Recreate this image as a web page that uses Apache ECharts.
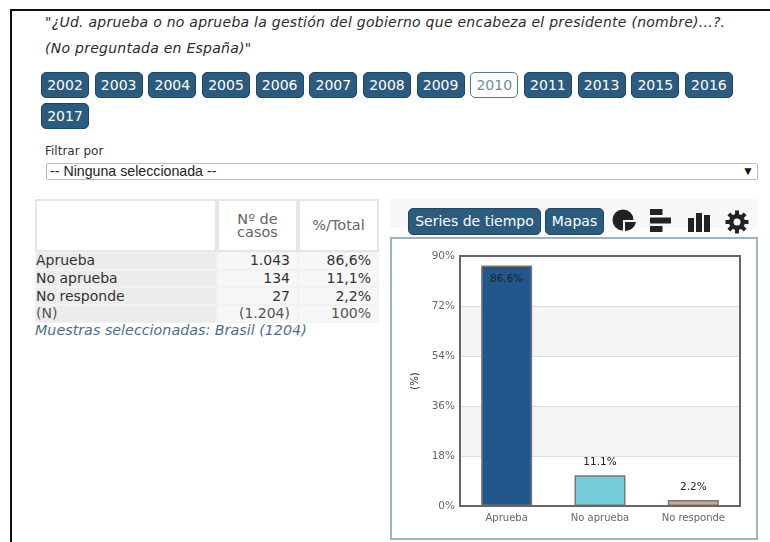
<!DOCTYPE html>
<html>
<head>
<meta charset="utf-8">
<script src="https://cdn.jsdelivr.net/npm/echarts@6/dist/echarts.min.js"></script>
<style>
  html, body { margin: 0; padding: 0; background: #fff; }
  body { width: 770px; height: 542px; position: relative; overflow: hidden; font-family: "DejaVu Sans", sans-serif; color: #333; }
  .abs { position: absolute; }
  /* black frame of the screenshot */
  #frame { left: 10px; top: 9px; width: 770px; height: 560px; border: 2px solid #111; }
  .question { left: 45px; font-size: 14px; letter-spacing: .26px; font-style: italic; color: #2b2b2b; white-space: nowrap; }
  #years { left: 41px; top: 72px; width: 700px; display: flex; flex-wrap: wrap; gap: 5px 5.650px; }
  .btn { box-sizing: border-box; height: 26px; line-height: 24px; padding: 0 5.200px; font-size: 14px; color: #fff; background: #2c5b80; border: 1px solid #1f4665; border-radius: 5px; white-space: nowrap; }
  .btn.on { background: #fff; color: #6f8ba1; border-color: #55778f; }
  #filterLabel { left: 45px; top: 144px; font-size: 12px; color: #333; }
  #filter { box-sizing: border-box; left: 46px; top: 163px; width: 712px; height: 17px; border: 1px solid #bbb; border-radius: 2px; font: 14.200px/15px "Liberation Sans", sans-serif; padding-left: 3px; color: #222; }
  #filter span { position: absolute; right: 3px; top: 0; font-size: 12px; color: #111; }
  table { border-collapse: separate; border-spacing: 0; table-layout: fixed; width: 344px; left: 35px; top: 199px; font-size: 14px; }
  th { height: 49px; padding: 0; font-weight: normal; color: #666; border: 2px solid #e6e6e6; font-size: 14.500px; line-height: 13px; background: #fff; }
  td { height: 15.700px; line-height: 15px; padding: 0 7px 0 0; border: 1px solid #f2f2f2; background: #f7f7f7; text-align: right; color: #333; overflow: hidden; }
  td:first-child { background: #ececec; text-align: left; }
  tr.total td { color: #555; }
  #caption { left: 35px; top: 322px; font-size: 14.300px; font-style: italic; color: #4f6f86; white-space: nowrap; }
  #strip { left: 390px; top: 199px; width: 368px; height: 29px; background: #f8f8f8; }
  #panel { box-sizing: border-box; left: 390px; top: 237px; width: 368px; height: 303px; border: 2px solid #9db3c1; }
  #chart { left: 392px; top: 239px; width: 364px; height: 299px; }
</style>
</head>
<body>
<div id="frame" class="abs"></div>
<div class="abs question" style="top:14px">"¿Ud. aprueba o no aprueba la gestión del gobierno que encabeza el presidente (nombre)...?.</div>
<div class="abs question" style="top:40px">(No preguntada en España)"</div>
<div id="years" class="abs"></div>
<div id="filterLabel" class="abs">Filtrar por</div>
<div id="filter" class="abs">-- Ninguna seleccionada --<span>▼</span></div>
<table id="tbl" class="abs"></table>
<div id="caption" class="abs">Muestras seleccionadas: Brasil (1204)</div>
<div id="strip" class="abs"></div>
<div class="abs btn" style="left:408px;top:208px;width:133px;height:27px;text-align:center;line-height:25px">Series de tiempo</div>
<div class="abs btn" style="left:545px;top:208px;width:59px;height:27px;text-align:center;line-height:25px">Mapas</div>
<svg class="abs" style="left:610px;top:205px" width="145" height="32" fill="#222">
  <path d="M13 15 L13 25.500 A10.500 10.500 0 1 1 23.500 15 Z"/>
  <path d="M15 17 L26 17 A11 11 0 0 1 15 26 Z"/>
  <rect x="40" y="4" width="12.500" height="6"/><rect x="40" y="12.500" width="21" height="6"/><rect x="40" y="21" width="12.500" height="6"/>
  <rect x="78" y="13" width="6" height="14"/><rect x="86" y="8" width="6" height="19"/><rect x="94" y="10" width="6" height="17"/>
  <g transform="translate(127 17)">
    <circle r="8"/>
    <rect x="-2" y="-11.500" width="4" height="23"/><rect x="-2" y="-11.500" width="4" height="23" transform="rotate(45)"/><rect x="-2" y="-11.500" width="4" height="23" transform="rotate(90)"/><rect x="-2" y="-11.500" width="4" height="23" transform="rotate(135)"/>
    <circle r="3.500" fill="#f8f8f8"/>
  </g>
</svg>
<div id="panel" class="abs"></div>
<div id="chart" class="abs"></div>
<script>
// values
const years = ['2002', '2003', '2004', '2005', '2006', '2007', '2008', '2009', '2010', '2011', '2013', '2015', '2016', '2017']
const activeYear = '2010'
const categories = ['Aprueba', 'No aprueba', 'No responde']
const percents = [86.6, 11.1, 2.2]
const barColors = ['#21578a', '#74cdd9', '#d4a986']
const yTicks = { min: 0, max: 90, interval: 18 }
const tableRows = [
  ['Aprueba', '1.043', '86,6%'],
  ['No aprueba', '134', '11,1%'],
  ['No responde', '27', '2,2%'],
  ['(N)', '(1.204)', '100%'],
]

document.getElementById('years').innerHTML = years
  .map((y) => `<div class="btn${y === activeYear ? ' on' : ''}">${y}</div>`)
  .join('')

document.getElementById('tbl').innerHTML =
  '<colgroup><col style="width:182px"><col style="width:81px"><col style="width:81px"></colgroup>' +
  '<tr><th></th><th>Nº de<br>casos</th><th>%/Total</th></tr>' +
  tableRows
    .map((r, i) => `<tr${i === 3 ? ' class="total"' : ''}>${r.map((c) => `<td>${c}</td>`).join('')}</tr>`)
    .join('')

const chart = echarts.init(document.getElementById('chart'), undefined, { renderer: 'canvas' })
chart.setOption({
  animation: false,
  grid: { show: true, left: 68, right: 16, top: 17, bottom: 32, borderColor: '#666', borderWidth: 2, z: 3 },
  xAxis: {
    type: 'category',
    data: categories,
    axisTick: { show: false },
    axisLine: { lineStyle: { color: '#666', width: 2 } },
    axisLabel: { color: '#666', fontSize: 10, fontFamily: 'DejaVu Sans', margin: 7 },
  },
  yAxis: {
    type: 'value',
    min: yTicks.min,
    max: yTicks.max,
    interval: yTicks.interval,
    name: '(%)',
    nameLocation: 'middle',
    nameGap: 35,
    nameTextStyle: { color: '#222', fontSize: 10, fontFamily: 'DejaVu Sans' },
    axisTick: { show: false },
    axisLine: { show: true, lineStyle: { color: '#666', width: 2 } },
    axisLabel: { color: '#666', fontSize: 10.5, fontFamily: 'DejaVu Sans', margin: 5, formatter: '{value}%' },
    splitLine: { lineStyle: { color: '#dcdcdc' } },
    splitArea: { show: true, areaStyle: { color: ['#fff', '#f5f5f5'] } },
  },
  series: [
    {
      type: 'bar',
      barWidth: 51,
      data: percents.map((v, i) => ({
        value: v,
        itemStyle: { color: barColors[i], borderColor: '#777', borderWidth: 1.5 },
        label: {
          show: true,
          position: i === 0 ? 'insideTop' : 'top',
          distance: i === 0 ? 8 : 7,
          color: '#222',
          fontSize: 10.5,
          fontFamily: 'DejaVu Sans',
          formatter: (p) => p.value + '%',
        },
      })),
    },
  ],
})
</script>
</body>
</html>
